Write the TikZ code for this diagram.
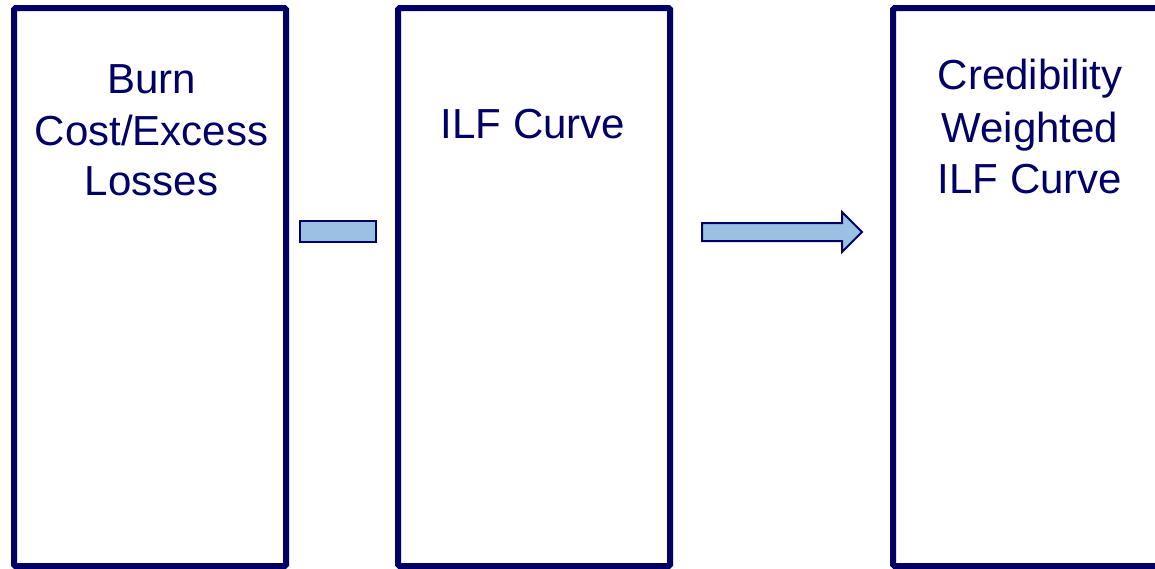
\documentclass[tikz,border=0pt]{standalone}
\usepackage{fontspec}
\setmainfont{Liberation Sans}
\definecolor{navy}{RGB}{0,0,102}
\definecolor{lightblue}{RGB}{153,194,226}
\begin{document}
\begin{tikzpicture}[x=1pt,y=-1pt,
  bigbox/.style={draw=navy,line width=6pt,rounded corners=1.5pt,minimum width=272pt,minimum height=558pt,inner sep=0pt,outer sep=0pt},
  boxtext/.style={text=navy,font=\fontsize{42}{51}\selectfont,inner sep=0pt,anchor=base},
  flowshape/.style={draw=navy,fill=lightblue,line width=2pt,line join=miter}]
\useasboundingbox (0,0) rectangle (1155,568);
\clip (0,0) rectangle (1155,568);
\node[bigbox] (b1) at (150,287) {};
\node[bigbox] (b2) at (534,287) {};
\node[bigbox] (b3) at (1029,287) {};
\node[boxtext] (t1a) at (151.5,93) {Burn};
\node[boxtext] (t1b) at (151.5,145) {Cost/Excess};
\node[boxtext] (t1c) at (151.5,195) {Losses};
\node[boxtext] (t2) at (533,138) {ILF Curve};
\node[boxtext] (t3a) at (1030,89) {Credibility};
\node[boxtext] (t3b) at (1030,142) {Weighted};
\node[boxtext] (t3c) at (1030,193) {ILF Curve};
\draw[flowshape] (300,221) rectangle (376,242);
\draw[flowshape] (702,223) -- (842,223) -- (842,212) -- (862,232) -- (842,252) -- (842,241) -- (702,241) -- cycle;
\end{tikzpicture}
\end{document}
